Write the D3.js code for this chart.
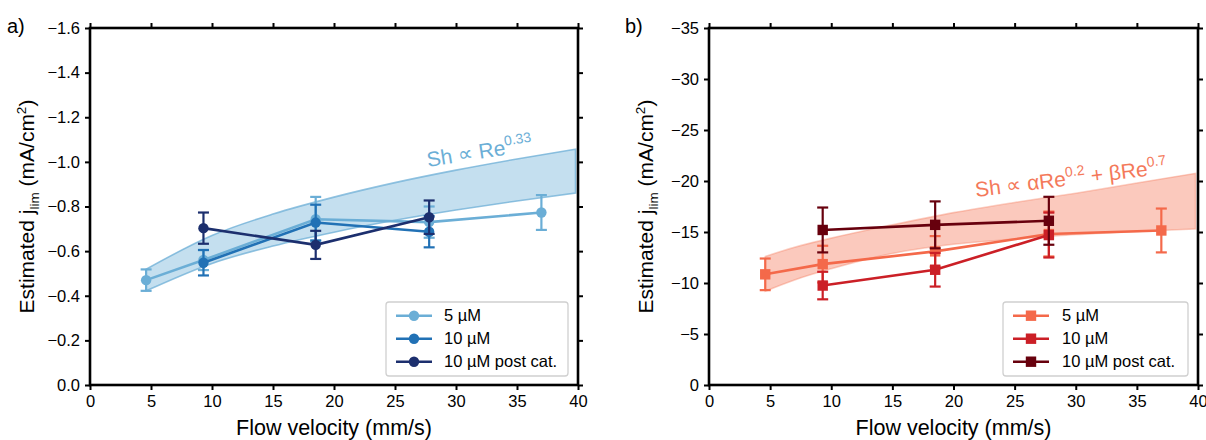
<!DOCTYPE html>
<html><head><meta charset="utf-8">
<script src="https://cdn.jsdelivr.net/npm/d3@7"></script>
<style>body{margin:0;background:#fff}svg{display:block}text{font-family:"Liberation Sans",Arial,sans-serif}</style>
</head><body><svg id="c" width="1206" height="440"></svg>
<script>
// ---------- data ----------
const xTicks = [0,5,10,15,20,25,30,35,40];
const yTicksA = [0,-0.2,-0.4,-0.6,-0.8,-1.0,-1.2,-1.4,-1.6];
const yTicksB = [0,-5,-10,-15,-20,-25,-30,-35];
const seriesNames = ["5 \u00b5M","10 \u00b5M","10 \u00b5M post cat."];

// panel a
const a5x = [4.6, 9.3, 18.5, 27.8, 37.0];
const a5y = [-0.47, -0.56, -0.743, -0.73, -0.773];
const a5e = [0.048, 0.045, 0.10, 0.07, 0.078];
const a10x = [9.3, 18.5, 27.8];
const a10y = [-0.548, -0.728, -0.687];
const a10e = [0.057, 0.08, 0.07];
const aPx = [9.3, 18.5, 27.8];
const aPy = [-0.703, -0.628, -0.752];
const aPe = [0.07, 0.063, 0.075];
const bandAx = [4.6, 10, 15, 20, 25, 30, 35, 39.8];
const bandAhi = [-0.519, -0.670, -0.766, -0.842, -0.907, -0.963, -1.013, -1.057];
const bandAlo = [-0.422, -0.545, -0.623, -0.685, -0.738, -0.784, -0.825, -0.860];

// panel b
const b5x = [4.6, 9.3, 18.5, 27.8, 37.0];
const b5y = [-10.85, -11.85, -13.1, -14.8, -15.15];
const b5e = [1.55, 1.8, 1.5, 2.2, 2.15];
const b10x = [9.3, 18.5, 27.8];
const b10y = [-9.75, -11.3, -14.7];
const b10e = [1.35, 1.65, 2.2];
const bPx = [9.3, 18.5, 27.8];
const bPy = [-15.2, -15.7, -16.1];
const bPe = [2.2, 2.3, 2.35];
const bandBx = [4.6, 7, 10, 15, 20, 25, 30, 35, 39.8];
const bandBhi = [-12.6, -13.5, -14.4, -15.7, -16.9, -17.9, -18.8, -19.8, -20.75];
const bandBlo = [-9.2, -10.3, -11.4, -12.9, -13.8, -14.3, -14.75, -15.05, -15.3];

// ---------- drawing ----------
const svg = d3.select("#c");
const FONT = '"Liberation Sans",Arial,sans-serif';

function panel(o){
  const g = svg.append("g");
  const x = d3.scaleLinear().domain([0,40]).range([o.left, o.right]);
  const y = d3.scaleLinear().domain([0, o.ymin]).range([385, 28]);
  const top = 28, bottom = 385;

  // band
  const area = d3.area().x(d=>x(d[0])).y0(d=>y(d[1])).y1(d=>y(d[2])).curve(d3.curveMonotoneX);
  const bandData = o.bx.map((v,i)=>[v,o.blo[i],o.bhi[i]]);
  g.append("path").attr("d", area(bandData) + "Z")
    .attr("fill", o.bandColor).attr("fill-opacity", 0.4)
    .attr("stroke", o.bandColor).attr("stroke-opacity", o.bandStrokeOp).attr("stroke-width", 1.6);

  // annotation
  const t = g.append("text").attr("transform", `translate(${o.ann.x},${o.ann.y}) rotate(${o.ann.rot})`)
    .attr("fill", o.bandColor).attr("font-size", 21);
  o.ann.parts.forEach(p=>{
    const ts = t.append("tspan").text(p[0]);
    if (p[1]) ts.attr("font-size", 14).attr("dy", -9);
    else if (p[2]) ts.attr("dy", 9);
  });

  // series
  o.series.forEach(s=>{
    const data = s.x.map((v,i)=>({x:v,y:s.y[i],e:s.e[i]}));
    g.append("path").attr("d", d3.line().x(d=>x(d.x)).y(d=>y(d.y))(data))
      .attr("fill","none").attr("stroke", s.color).attr("stroke-width", 2.6);
    data.forEach(d=>{
      const yt = y(d.y - d.e), yb = y(d.y + d.e), cx = x(d.x);
      g.append("line").attr("x1",cx).attr("x2",cx).attr("y1",yt).attr("y2",yb).attr("stroke",s.color).attr("stroke-width",2.2);
      [yt,yb].forEach(yy=>g.append("line").attr("x1",cx-5.5).attr("x2",cx+5.5).attr("y1",yy).attr("y2",yy).attr("stroke",s.color).attr("stroke-width",2.2));
      if (o.marker==="circle") g.append("circle").attr("cx",cx).attr("cy",y(d.y)).attr("r",5.2).attr("fill",s.color);
      else g.append("rect").attr("x",cx-5.2).attr("y",y(d.y)-5.2).attr("width",10.4).attr("height",10.4).attr("fill",s.color);
    });
  });

  // axes
  const ax = (axis)=>axis.tickSizeOuter(0).tickSize(5);
  const gb = g.append("g").attr("transform",`translate(0,${bottom})`).call(ax(d3.axisBottom(x).tickValues(xTicks).tickFormat(d3.format("d"))));
  const gt = g.append("g").attr("transform",`translate(0,${top})`).call(ax(d3.axisTop(x).tickValues(xTicks).tickFormat("")));
  const gl = g.append("g").attr("transform",`translate(${o.left},0)`).call(ax(d3.axisLeft(y).tickValues(o.yTicks).tickFormat(d3.format(o.yfmt))));
  const gr = g.append("g").attr("transform",`translate(${o.right},0)`).call(ax(d3.axisRight(y).tickValues(o.yTicks).tickFormat("")));
  [gb,gt,gl,gr].forEach(a=>{
    a.select(".domain").remove();
    a.selectAll(".tick line").attr("stroke","#000").attr("stroke-width",2);
    a.selectAll("text").attr("font-size",16.5).attr("fill","#000").style("font-family",FONT);
  });
  gb.selectAll("text").attr("dy","0.94em").attr("y",6);
  gl.selectAll("text").attr("x",-10);
  g.append("rect").attr("x",o.left).attr("y",top).attr("width",o.right-o.left).attr("height",bottom-top)
    .attr("fill","none").attr("stroke","#000").attr("stroke-width",2.6);

  // axis labels
  g.append("text").attr("x",(o.left+o.right)/2).attr("y",435).attr("text-anchor","middle").attr("font-size",21.5).text("Flow velocity (mm/s)");
  const yl = g.append("text").attr("transform",`translate(${o.ylx},${(top+bottom)/2}) rotate(-90)`).attr("text-anchor","middle").attr("font-size",21);
  yl.append("tspan").text("Estimated j");
  yl.append("tspan").text("lim").attr("font-size",13.5).attr("dy",5);
  yl.append("tspan").text(" (mA/cm").attr("dy",-5);
  yl.append("tspan").text("2").attr("font-size",13.5).attr("dy",-8);
  yl.append("tspan").text(")").attr("dy",8);

  // panel label
  g.append("text").attr("x",o.plx).attr("y",33).attr("font-size",20).text(o.pl);

  // legend
  const L = o.legend;
  g.append("rect").attr("x",L.x).attr("y",302).attr("width",L.w).attr("height",74).attr("rx",3)
    .attr("fill","#fff").attr("fill-opacity",0.8).attr("stroke","#d0d0d0").attr("stroke-width",1.3);
  o.series.forEach((s,i)=>{
    const yy = 315.7 + i*23;
    const lx = L.x + 10;
    g.append("line").attr("x1",lx).attr("x2",lx+36).attr("y1",yy).attr("y2",yy).attr("stroke",s.color).attr("stroke-width",2.6);
    if (o.marker==="circle") g.append("circle").attr("cx",lx+18).attr("cy",yy).attr("r",5.2).attr("fill",s.color);
    else g.append("rect").attr("x",lx+18-5.2).attr("y",yy-5.2).attr("width",10.4).attr("height",10.4).attr("fill",s.color);
    g.append("text").attr("x",L.tx).attr("y",yy).attr("dy","0.35em").attr("font-size",16.5).text(seriesNames[i]);
  });
}

panel({
  left:90, right:578, ymin:-1.6, yTicks:yTicksA, yfmt:".1f", marker:"circle",
  bx:bandAx, bhi:bandAhi, blo:bandAlo, bandColor:"#6baed6", bandStrokeOp:0.75,
  ann:{x:428, y:167, rot:-9, parts:[["Sh \u221d Re"],["0.33",true]]},
  series:[
    {x:a5x,y:a5y,e:a5e,color:"#6baed6"},
    {x:a10x,y:a10y,e:a10e,color:"#2171b5"},
    {x:aPx,y:aPy,e:aPe,color:"#1c2f6e"}
  ],
  ylx:34, plx:7, pl:"a)",
  legend:{x:386, w:182, tx:444}
});

panel({
  left:709, right:1198, ymin:-35, yTicks:yTicksB, yfmt:"d", marker:"square",
  bx:bandBx, bhi:bandBhi, blo:bandBlo, bandColor:"#f4795a", bandStrokeOp:0.35,
  ann:{x:976, y:197, rot:-7, parts:[["Sh \u221d \u03b1Re"],["0.2",true],[" + \u03b2Re",false,true],["0.7",true]]},
  series:[
    {x:b5x,y:b5y,e:b5e,color:"#f4694a"},
    {x:b10x,y:b10y,e:b10e,color:"#cb1f26"},
    {x:bPx,y:bPy,e:bPe,color:"#67000d"}
  ],
  ylx:653, plx:625, pl:"b)",
  legend:{x:1003, w:185, tx:1062}
});
</script></body></html>
